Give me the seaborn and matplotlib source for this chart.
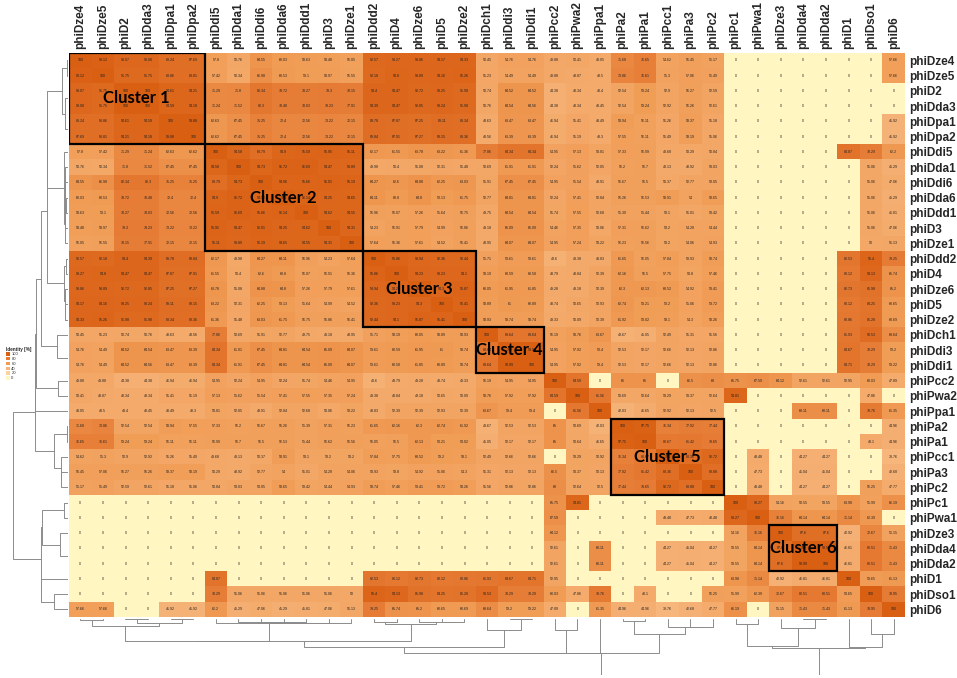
import numpy as np
import pandas as pd
import matplotlib
matplotlib.use("Agg")
import matplotlib.pyplot as plt
import seaborn as sns
from matplotlib.colors import LinearSegmentedColormap
from matplotlib.patches import Rectangle, Patch

phages = ["phiDze4", "phiDze5", "phiD2", "phiDda3", "phiDpa1", "phiDpa2", "phiDdi5",
          "phiDda1", "phiDdi6", "phiDda6", "phiDdd1", "phiD3", "phiDze1", "phiDdd2",
          "phiD4", "phiDze6", "phiD5", "phiDze2", "phiDch1", "phiDdi3", "phiDdi1",
          "phiPcc2", "phiPwa2", "phiPpa1", "phiPa2", "phiPa1", "phiPcc1", "phiPa3",
          "phiPc2", "phiPc1", "phiPwa1", "phiDze3", "phiDda4", "phiDda2", "phiD1",
          "phiDso1", "phiD6"]

# upper triangle of the identity matrix (%), each row starts at the diagonal
upper = [
    [100, 98.12, 93.07, 93.08, 88.24, 87.69, 57.8, 50.76, 64.55, 60.03, 58.63, 58.48, 56.05, 92.57, 93.27, 93.86, 94.17, 94.33, 50.45, 54.76, 54.76, 49.88, 50.41, 48.05, 71.68, 76.65, 54.62, 56.45, 55.17, 0, 0, 0, 0, 0, 0, 0, 57.66],
    [100, 91.75, 91.75, 88.86, 88.81, 57.42, 50.34, 66.98, 60.53, 59.1, 58.97, 56.55, 92.18, 94.8, 93.89, 94.16, 95.26, 51.23, 54.49, 54.49, 49.88, 48.87, 48.5, 73.86, 76.61, 55.3, 57.06, 55.49, 0, 0, 0, 0, 0, 0, 0, 57.66],
    [100, 100, 94.61, 94.21, 71.29, 71.8, 82.34, 78.72, 78.27, 79.3, 78.15, 94.4, 94.47, 92.72, 93.25, 91.98, 50.74, 64.52, 64.52, 44.38, 48.34, 48.4, 52.54, 59.24, 52.9, 56.27, 52.59, 0, 0, 0, 0, 0, 0, 0, 0],
    [100, 94.59, 94.18, 71.24, 71.52, 82.3, 78.48, 78.03, 79.23, 77.91, 94.39, 94.47, 92.85, 93.24, 91.98, 50.76, 64.54, 64.56, 44.38, 48.34, 48.45, 52.54, 59.24, 52.92, 56.26, 52.61, 0, 0, 0, 0, 0, 0, 0, 0],
    [100, 99.88, 62.63, 67.45, 75.25, 72.4, 72.56, 73.22, 72.15, 89.78, 87.87, 87.25, 89.11, 88.34, 48.63, 63.47, 63.47, 46.94, 51.41, 48.49, 58.94, 56.11, 51.26, 58.37, 51.18, 0, 0, 0, 0, 0, 0, 0, 41.92],
    [100, 62.62, 67.45, 75.25, 72.4, 72.56, 73.22, 72.15, 89.84, 87.91, 87.27, 89.15, 88.36, 48.56, 63.39, 63.39, 46.94, 51.19, 48.3, 57.55, 56.11, 51.49, 58.19, 51.06, 0, 0, 0, 0, 0, 0, 0, 41.92],
    [100, 94.58, 88.79, 94.9, 95.59, 95.95, 95.11, 62.17, 61.55, 63.78, 63.22, 61.36, 77.86, 84.34, 84.34, 54.95, 57.13, 53.81, 57.33, 56.99, 49.68, 50.29, 50.84, 0, 0, 0, 0, 0, 84.87, 78.29, 62.2],
    [100, 94.73, 96.72, 96.69, 94.47, 93.89, 49.98, 50.4, 51.08, 52.31, 51.48, 50.69, 61.91, 61.91, 52.24, 55.62, 52.05, 56.2, 56.7, 49.13, 48.92, 53.03, 0, 0, 0, 0, 0, 0, 51.06, 45.29],
    [100, 94.96, 95.66, 96.01, 95.19, 64.27, 62.6, 64.88, 62.25, 63.03, 51.91, 67.45, 67.45, 54.95, 55.54, 48.91, 56.67, 56.5, 50.37, 52.77, 53.05, 0, 0, 0, 0, 0, 0, 51.06, 47.06],
    [100, 96.14, 94.25, 94.65, 64.11, 60.8, 64.8, 59.13, 61.75, 52.77, 64.81, 64.81, 52.24, 57.41, 52.84, 56.26, 56.53, 58.91, 54, 58.65, 0, 0, 0, 0, 0, 0, 51.06, 45.29],
    [100, 94.62, 94.55, 56.96, 56.07, 57.26, 55.64, 56.75, 49.75, 64.54, 64.54, 51.74, 57.55, 52.68, 55.39, 55.44, 53.1, 51.01, 53.42, 0, 0, 0, 0, 0, 0, 51.06, 45.81],
    [100, 94.31, 54.23, 56.91, 57.79, 54.99, 56.86, 49.18, 65.09, 65.09, 54.46, 57.35, 50.06, 57.31, 56.62, 53.2, 54.28, 54.44, 0, 0, 0, 0, 0, 0, 51.06, 47.06],
    [100, 57.64, 56.36, 57.61, 54.52, 56.41, 48.95, 64.07, 64.07, 54.95, 57.24, 53.22, 56.23, 56.56, 53.2, 54.06, 54.93, 0, 0, 0, 0, 0, 0, 50, 51.13],
    [100, 95.86, 93.94, 92.36, 92.44, 55.71, 59.61, 59.61, 43.6, 49.38, 48.83, 61.65, 56.05, 57.84, 53.93, 58.74, 0, 0, 0, 0, 0, 82.53, 95.4, 79.25],
    [100, 94.23, 93.23, 94.1, 58.19, 60.59, 60.58, 48.79, 48.84, 52.39, 62.16, 56.5, 57.75, 53.8, 57.46, 0, 0, 0, 0, 0, 80.12, 94.13, 65.74],
    [100, 94.3, 95.87, 60.05, 61.95, 61.85, 49.28, 49.18, 52.39, 62.3, 62.13, 60.52, 54.92, 59.41, 0, 0, 0, 0, 0, 82.73, 85.98, 65.2],
    [100, 95.41, 58.89, 61, 60.89, 48.74, 50.65, 52.93, 62.74, 59.21, 59.2, 55.06, 59.72, 0, 0, 0, 0, 0, 80.12, 84.25, 60.65],
    [100, 58.93, 58.74, 58.74, 49.33, 50.09, 52.39, 61.92, 59.02, 58.1, 54.3, 58.26, 0, 0, 0, 0, 0, 80.86, 85.28, 60.69],
    [100, 83.64, 83.64, 56.19, 58.76, 63.67, 43.67, 45.05, 52.49, 51.31, 51.56, 0, 0, 0, 0, 0, 81.93, 90.53, 68.64],
    [100, 99.99, 54.95, 57.92, 59.4, 52.53, 52.17, 52.66, 52.13, 52.86, 0, 0, 0, 0, 0, 84.67, 78.29, 59.2],
    [100, 54.95, 57.92, 59.4, 52.53, 52.17, 52.66, 52.13, 52.86, 0, 0, 0, 0, 0, 84.71, 78.29, 59.22],
    [100, 84.59, 0, 65, 65, 0, 66.5, 68, 65.75, 67.59, 64.12, 52.61, 52.61, 52.95, 60.03, 47.89],
    [100, 81.56, 50.69, 50.64, 53.29, 53.37, 52.64, 94.81, 0, 0, 0, 0, 0, 47.86, 0],
    [100, 42.03, 46.65, 52.92, 52.13, 52.5, 0, 0, 0, 68.11, 68.11, 0, 79.76, 61.35],
    [100, 97.75, 76.34, 77.92, 77.44, 0, 0, 0, 0, 0, 0, 0, 44.96],
    [100, 80.67, 81.42, 79.65, 0, 0, 0, 0, 0, 0, 48.1, 44.96],
    [100, 88.36, 92.72, 0, 48.48, 0, 44.27, 44.27, 0, 0, 38.76],
    [100, 88.88, 0, 47.73, 0, 45.04, 45.04, 0, 0, 42.68],
    [100, 0, 48.48, 0, 44.27, 44.27, 0, 56.25, 47.77],
    [100, 93.27, 54.16, 53.55, 53.55, 63.98, 55.99, 66.19],
    [100, 76.16, 64.14, 64.14, 71.14, 62.39, 0],
    [100, 87.6, 87.6, 42.92, 72.67, 55.15],
    [100, 99.99, 46.81, 80.51, 71.43],
    [100, 46.81, 80.51, 71.43],
    [100, 59.65, 61.13],
    [100, 78.95],
    [100],
]

# clusters marked on the heatmap (first and last member)
cluster_names = ["Cluster 1", "Cluster 2", "Cluster 3", "Cluster 4", "Cluster 5", "Cluster 6"]
cluster_first = ["phiDze4", "phiDdi5", "phiDdd2", "phiDch1", "phiPa2", "phiDze3"]
cluster_last = ["phiDpa2", "phiDze1", "phiDze2", "phiDdi1", "phiPc2", "phiDda2"]

legend_levels = [100, 80, 60, 40, 20, 0]

# build full symmetric matrix
n = len(phages)
ident = np.zeros((n, n))
for i, row in enumerate(upper):
    ident[i, i:] = row
    ident[i:, i] = row
df = pd.DataFrame(ident, index=phages, columns=phages)
annot = df.map(lambda v: f"{v:g}")

sns.set_theme(style="white")
plt.rcParams["font.family"] = ["Liberation Sans", "DejaVu Sans"]

cmap = LinearSegmentedColormap.from_list(
    "ident", [(0.0, "#FFF6C2"), (0.4, "#F6B47A"), (0.6, "#F09C55"),
              (0.8, "#E57A33"), (1.0, "#D95F12")])

fig = plt.figure(figsize=(9.57, 6.78), dpi=100)
ax = fig.add_axes([0.0721, 0.0900, 0.8736, 0.8323])
sns.heatmap(df, ax=ax, cmap=cmap, vmin=0, vmax=100, cbar=False,
            annot=annot, fmt="", annot_kws={"size": 2.6, "color": "#222222"})
ax.grid(False)
ax.xaxis.tick_top()
ax.yaxis.tick_right()
ax.set_xticks(np.arange(n) + 0.5)
ax.set_xticklabels(phages, rotation=90, fontsize=8.5, fontweight="bold")
ax.set_yticks(np.arange(n) + 0.5)
ax.set_yticklabels(phages, rotation=0, fontsize=8.5, fontweight="bold")
ax.tick_params(length=0, pad=3)
ax.set_xlabel("")
ax.set_ylabel("")

# cluster boxes
for name, first, last in zip(cluster_names, cluster_first, cluster_last):
    a = phages.index(first)
    b = phages.index(last) + 1
    ax.add_patch(Rectangle((a, a), b - a, b - a, fill=False, ec="black", lw=1.6, zorder=5))
    ax.text((a + b) / 2, (a + b) / 2, name, ha="center", va="center", fontsize=12,
            fontweight="bold", family=["Lato", "DejaVu Sans"], color="black", zorder=6)


# dendrogram from average distances, merging neighbours in the displayed order
def adjacent_linkage(dist):
    groups = [[i] for i in range(len(dist))]
    pos = [i + 0.5 for i in range(len(dist))]
    hts = [0.0] * len(dist)
    segs = []
    while len(groups) > 1:
        d = [dist[np.ix_(groups[k], groups[k + 1])].mean() for k in range(len(groups) - 1)]
        k = int(np.argmin(d))
        h = max(d[k], hts[k], hts[k + 1])
        segs.append((pos[k], pos[k + 1], hts[k], hts[k + 1], h))
        groups[k:k + 2] = [groups[k] + groups[k + 1]]
        pos[k:k + 2] = [(pos[k] + pos[k + 1]) / 2]
        hts[k:k + 2] = [h]
    return segs, hts[0]


segs, top_h = adjacent_linkage(100 - ident)
dcol = "#8c8c8c"

ax_left = fig.add_axes([0.014, 0.0900, 0.0575, 0.8323])
for p1, p2, h1, h2, h in segs:
    ax_left.plot([h1, h, h, h2], [p1, p1, p2, p2], color=dcol, lw=0.7)
ax_left.set_ylim(n, 0)
ax_left.set_xlim(top_h, 0)
ax_left.axis("off")

ax_bot = fig.add_axes([0.0721, 0.004, 0.8736, 0.083])
for p1, p2, h1, h2, h in segs:
    ax_bot.plot([p1, p1, p2, p2], [h1, h, h, h2], color=dcol, lw=0.7)
ax_bot.set_xlim(0, n)
ax_bot.set_ylim(top_h, 0)
ax_bot.axis("off")

# small legend on the left
handles = [Patch(fc=cmap(v / 100), ec="none", label=str(v)) for v in legend_levels]
leg = fig.legend(handles=handles, title="Identity [%]", loc="upper left",
                 bbox_to_anchor=(0.004, 0.492), fontsize=3, title_fontsize=3.3,
                 frameon=False, handlelength=0.9, handleheight=0.9, labelspacing=0.15,
                 borderpad=0, handletextpad=0.4, alignment="left")
leg.get_title().set_fontweight("bold")

fig.savefig("out.png", dpi=100)
